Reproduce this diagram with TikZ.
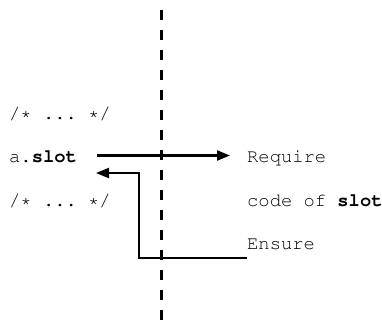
\documentclass[tikz,border=0pt]{standalone}
\usepackage[T1]{fontenc}
\usepackage{courier}
\usetikzlibrary{arrows.meta,positioning}

\begin{document}
\begin{tikzpicture}[
    x=1pt, y=-1pt,
    code/.style={inner sep=0pt, anchor=base west, text height=13pt, text depth=0pt, font=\ttfamily\frenchspacing\fontsize{18.8}{22}\selectfont},
    arrow/.style={-{Triangle[length=13pt,width=10pt]}, line width=2.2pt},
    boundary/.style={line width=2.6pt, dash pattern=on 10pt off 10pt}
]
\useasboundingbox (0,0) rectangle (382,322);

% Left: caller code
\node[code] (cmtabove) at (9,119) {/* ... */};
\node[code] (call) at (9,162) {a.\textbf{slot}};
\node[code] (cmtbelow) at (9,206) {/* ... */};

% Right: callee code
\node[code] (req) at (247,162) {Require};
\node[code] (body) at (247,206) {code of \textbf{slot}};
\node[code] (ens) at (247,249) {Ensure};

% Boundary between caller and callee
\coordinate (bartop) at (161.5,10);
\coordinate (barbot) at (161.5,322);
\draw[boundary] (bartop) -- (barbot);

% Call
\draw[arrow] ([xshift=20pt]call.east) -- ([xshift=-17pt]req.west);

% Return
\coordinate (retstart) at (247,258);
\coordinate (retbend) at (139,173);
\coordinate (retend) at (96,173);
\draw[arrow] (retstart) -| (retbend) -- (retend);

\end{tikzpicture}
\end{document}
